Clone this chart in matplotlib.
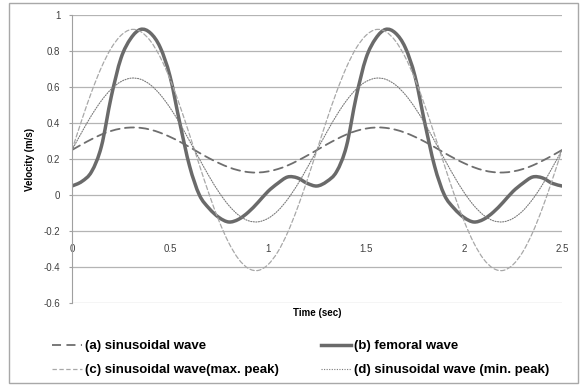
import matplotlib
matplotlib.use('Agg')
import matplotlib.pyplot as plt
from matplotlib.patches import Rectangle, PathPatch
from matplotlib.path import Path
from matplotlib.lines import Line2D

plt.rcParams['font.family'] = ['Liberation Sans', 'DejaVu Sans']

# time axis, 0.05 s steps
time = [round(i * 0.05, 2) for i in range(51)]

wave_a = [0.250, 0.281, 0.310, 0.336, 0.356, 0.369, 0.375, 0.373, 0.363, 0.346,
          0.323, 0.296, 0.266, 0.234, 0.204, 0.177, 0.154, 0.137, 0.127, 0.125,
          0.131, 0.144, 0.164, 0.190, 0.219, 0.250,
          0.281, 0.310, 0.336, 0.356, 0.369, 0.375, 0.373, 0.363, 0.346,
          0.323, 0.296, 0.266, 0.234, 0.204, 0.177, 0.154, 0.137, 0.127, 0.125,
          0.131, 0.144, 0.164, 0.190, 0.219, 0.250]

femoral = [0.050, 0.075, 0.130, 0.270, 0.545, 0.760, 0.870, 0.920, 0.900, 0.820,
           0.660, 0.400, 0.160, 0.000, -0.075, -0.125, -0.150, -0.135, -0.095, -0.040,
           0.020, 0.065, 0.100, 0.095, 0.065, 0.050,
           0.075, 0.130, 0.270, 0.545, 0.760, 0.870, 0.920, 0.900, 0.820,
           0.660, 0.400, 0.160, 0.000, -0.075, -0.125, -0.150, -0.135, -0.095, -0.040,
           0.020, 0.065, 0.100, 0.095, 0.065, 0.050]

wave_c = [0.250, 0.417, 0.573, 0.709, 0.816, 0.887, 0.919, 0.908, 0.856, 0.766,
          0.644, 0.497, 0.334, 0.166, 0.003, -0.144, -0.266, -0.356, -0.408, -0.419,
          -0.387, -0.316, -0.209, -0.073, 0.083, 0.250,
          0.417, 0.573, 0.709, 0.816, 0.887, 0.919, 0.908, 0.856, 0.766,
          0.644, 0.497, 0.334, 0.166, 0.003, -0.144, -0.266, -0.356, -0.408, -0.419,
          -0.387, -0.316, -0.209, -0.073, 0.083, 0.250]

wave_d = [0.250, 0.349, 0.443, 0.524, 0.588, 0.630, 0.649, 0.643, 0.612, 0.558,
          0.485, 0.397, 0.300, 0.200, 0.103, 0.015, -0.058, -0.112, -0.143, -0.149,
          -0.130, -0.088, -0.024, 0.057, 0.151, 0.250,
          0.349, 0.443, 0.524, 0.588, 0.630, 0.649, 0.643, 0.612, 0.558,
          0.485, 0.397, 0.300, 0.200, 0.103, 0.015, -0.058, -0.112, -0.143, -0.149,
          -0.130, -0.088, -0.024, 0.057, 0.151, 0.250]

labels = ['(a) sinusoidal wave', '(b) femoral wave',
          '(c) sinusoidal wave(max. peak)', '(d) sinusoidal wave (min. peak)']

x_ticks = [0, 0.5, 1, 1.5, 2, 2.5]
x_labels = ['0', '0.5', '1', '1.5', '2', '2.5']
y_ticks = [-0.6, -0.4, -0.2, 0, 0.2, 0.4, 0.6, 0.8, 1]
y_labels = ['-0.6', '-0.4', '-0.2', '0', '0.2', '0.4', '0.6', '0.8', '1']


def smooth_path(xs, ys):
    # Excel-style smoothed line: cubic bezier through every data point
    pts = list(zip(xs, ys))
    n = len(pts)
    verts = [pts[0]]
    codes = [Path.MOVETO]
    for i in range(n - 1):
        p0 = pts[i - 1] if i > 0 else pts[i]
        p1 = pts[i]
        p2 = pts[i + 1]
        p3 = pts[i + 2] if i + 2 < n else pts[i + 1]
        c1 = (p1[0] + (p2[0] - p0[0]) / 6, p1[1] + (p2[1] - p0[1]) / 6)
        c2 = (p2[0] - (p3[0] - p1[0]) / 6, p2[1] - (p3[1] - p1[1]) / 6)
        verts += [c1, c2, p2]
        codes += [Path.CURVE4] * 3
    return Path(verts, codes)


styles = [
    dict(color='#6e6e6e', lw=1.3, ls=(0, (5, 3))),
    dict(color='#6a6a6a', lw=2.5, ls='-'),
    dict(color='#a8a8a8', lw=0.9, ls=(0, (3.5, 2))),
    dict(color='#7a7a7a', lw=0.8, ls=(0, (1, 1.3))),
]

fig = plt.figure(figsize=(5.85, 3.86), dpi=100)
ax = fig.add_axes([72 / 585, 1 - 303 / 386, 490 / 585, 288 / 386])

handles = []
for ys, st in zip([wave_a, femoral, wave_c, wave_d], styles):
    patch = PathPatch(smooth_path(time, ys), fill=False, edgecolor=st['color'],
                      lw=st['lw'], linestyle=st['ls'], capstyle='round', joinstyle='round')
    ax.add_patch(patch)
    handles.append(Line2D([], [], color=st['color'], lw=st['lw'], linestyle=st['ls']))

ax.set_xlim(0, 2.5)
ax.set_ylim(-0.6, 1)
ax.set_yticks(y_ticks)
ax.set_yticklabels(y_labels)
ax.set_xticks(x_ticks)
ax.set_xticklabels(x_labels)
ax.grid(axis='y', color='#b4b4b4', lw=0.9)
ax.set_axisbelow(True)

for side in ['top', 'right']:
    ax.spines[side].set_visible(False)
ax.spines['left'].set_color('#a0a0a0')
ax.spines['bottom'].set_position(('data', -0.2))
ax.spines['bottom'].set_visible(False)
ax.tick_params(axis='y', length=2.5, color='#a0a0a0', labelsize=7, labelcolor='#404040', pad=6)
ax.tick_params(axis='x', length=0, labelsize=7, labelcolor='#404040', pad=9)

ax.set_ylabel('Velocity (m/s)', fontsize=7, fontweight='bold', labelpad=6)
fig.text(317 / 585, 1 - 313 / 386, 'Time (sec)', fontsize=7, fontweight='bold',
         ha='center', va='center')

# legend: column 1 = (a), (c); column 2 = (b), (d)
fig.legend([handles[0], handles[2], handles[1], handles[3]],
           [labels[0], labels[2], labels[1], labels[3]],
           ncol=2, loc='upper left', bbox_to_anchor=(52 / 585, 1 - 340 / 386),
           frameon=False, prop={'size': 9.5, 'weight': 'bold'},
           handlelength=2.3, handletextpad=0.2, columnspacing=3.2,
           labelspacing=0.9, borderpad=0, borderaxespad=0)

fig.patches.append(Rectangle((9 / 585, 1 - 383 / 386), 569 / 585, 380 / 386,
                             transform=fig.transFigure, fill=False,
                             edgecolor='#a8a8a8', lw=1))

fig.savefig('out.png', dpi=100)
